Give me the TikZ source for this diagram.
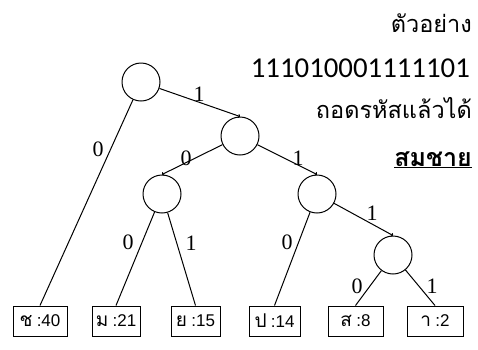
\documentclass[tikz,border=0pt]{standalone}
\usepackage{fontspec}
\setmainfont{Liberation Serif}
\newfontfamily\thaifont[Script=Thai]{Loma}
\newfontfamily\numfont{Carlito}
\newfontfamily\leafnum{Liberation Sans}
\usetikzlibrary{arrows.meta}
\begin{document}
\begin{tikzpicture}[x=1pt,y=-1pt,
  inner/.style={circle,draw,line width=1pt,minimum size=38pt,inner sep=0pt},
  leaf/.style={draw,line width=1pt,minimum height=30pt,inner sep=2pt,font=\fontsize{17}{17}\selectfont},
  edge/.style={line width=1pt,-{To[length=2pt,width=4pt]}},
  ledge/.style={line width=1pt},
  bit/.style={font=\fontsize{22}{22}\selectfont,inner sep=0pt},
  txt/.style={anchor=base east,inner sep=0pt,font=\thaifont\fontsize{23.5}{23.5}\selectfont}]
\useasboundingbox (0,0) rectangle (478,349);
% inner nodes
\node[inner] (n0) at (141,82) {};
\node[inner] (n1) at (240,136) {};
\node[inner] (n2) at (162,194) {};
\node[inner] (n3) at (317,194) {};
\node[inner] (n4) at (393,255) {};
% leaves
\node[leaf,minimum width=54pt] (l1) at (40,321) {{\thaifont\fontsize{19}{19}\selectfont ช} {\leafnum :40}};
\node[leaf,minimum width=48pt] (l2) at (116,321) {{\thaifont\fontsize{19}{19}\selectfont ม} {\leafnum :21}};
\node[leaf,minimum width=49pt] (l3) at (195.5,321) {{\thaifont\fontsize{19}{19}\selectfont ย} {\leafnum :15}};
\node[leaf,minimum width=51pt] (l4) at (274.5,321) {{\thaifont\fontsize{19}{19}\selectfont ป} {\leafnum :14}};
\node[leaf,minimum width=55pt] (l5) at (355.5,321) {{\thaifont\fontsize{19}{19}\selectfont ส} {\leafnum :8}};
\node[leaf,minimum width=56pt] (l6) at (435,321) {{\thaifont\fontsize{19}{19}\selectfont า} {\leafnum :2}};
% connectors
\draw[ledge] (n0) -- (l1.north);
\draw[edge] (n0) -- (n1.north);
\draw[edge] (n1) -- (n2.north);
\draw[edge] (n1) -- (n3.north);
\draw[ledge] (n2) -- (l2.north);
\draw[ledge] (n2) -- (l3.north);
\draw[ledge] (n3) -- (l4.north);
\draw[edge] (n3) -- (n4.north);
\draw[ledge] (n4) -- (l5.north);
\draw[ledge] (n4) -- (l6.north);
% bit labels
\node[bit] (b1) at (98,149) {0};
\node[bit] (b2) at (199,94) {1};
\node[bit] (b3) at (186,158) {0};
\node[bit] (b4) at (298,158) {1};
\node[bit] (b5) at (128,242) {0};
\node[bit] (b6) at (191,243) {1};
\node[bit] (b7) at (287,242) {0};
\node[bit] (b8) at (372,213) {1};
\node[bit] (b9) at (357,286) {0};
\node[bit] (b10) at (432,286) {1};
% text
\node[txt] (t1) at (472,32) {ตัวอย่าง};
\node[txt,font=\numfont\fontsize{28.8}{28.8}\selectfont] (t2) at (470,77) {111010001111101};
\node[txt] (t3) at (472,118) {ถอดรหัสแล้วได้};
\node[txt,font=\thaifont\bfseries\fontsize{25}{25}\selectfont] (t4) at (472,166) {\underline{สมชาย}};
\end{tikzpicture}
\end{document}
